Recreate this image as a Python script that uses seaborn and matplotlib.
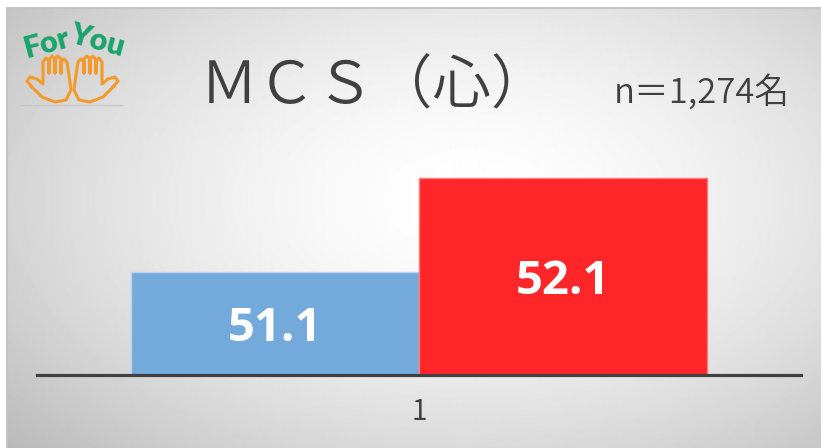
import numpy as np
import pandas as pd
import matplotlib
matplotlib.use('Agg')
import matplotlib.pyplot as plt
import seaborn as sns

# ---- data ----
categories = ['1']
groups = ['A', 'B']
values = [51.1, 52.1]
value_labels = ['51.1', '52.1']
title = 'ＭＣＳ（心）'
n_text = 'n＝1,274名'
colors = ['#74A9DB', '#FF2629']
edge_colors = ['#B8D3EE', '#FF7A7A']

sns.set_style('white')
plt.rcParams['font.family'] = ['Noto Sans CJK JP', 'DejaVu Sans']

W, H = 821, 448
fig = plt.figure(figsize=(W / 100, H / 100), dpi=100)
fig.patch.set_facecolor('white')

# ---- radial gradient background ----
bg = fig.add_axes([7 / W, 0, (W - 7) / W, (H - 8) / H], zorder=0)
ys, xs = np.mgrid[8:H, 7:W]
r = np.hypot((xs - 470) / 560, (ys - 200) / 330)
v = 1 - 0.23 * np.clip(r, 0, 1.3) ** 1.6
bg.imshow(v, cmap='gray', vmin=0, vmax=1, aspect='auto', interpolation='bilinear')
bg.set_axis_off()

# ---- main chart ----
ax = fig.add_axes([37 / W, (H - 375) / H, 764 / W, (375 - 93) / H], zorder=1)
ax.patch.set_alpha(0)
df = pd.DataFrame({'cat': categories * len(groups), 'grp': groups, 'val': values})
sns.barplot(data=df, x='cat', y='val', hue='grp', palette=colors, width=0.754,
            saturation=1, legend=False, errorbar=None, ax=ax)
ax.set_ylim(50, 53)
ax.set_xlim(-0.5, 0.5)
for p, ec in zip(ax.patches, edge_colors):
    p.set_edgecolor(ec)
    p.set_linewidth(1)
y0 = ax.get_ylim()[0]
for p, lab in zip(ax.patches, value_labels):
    ax.text(p.get_x() + p.get_width() / 2, (y0 + p.get_height()) / 2, lab,
            ha='center', va='center_baseline', color='white', fontsize=34,
            fontweight='bold', family=['Open Sans', 'DejaVu Sans'])
for s in ['left', 'top', 'right']:
    ax.spines[s].set_visible(False)
ax.spines['bottom'].set_color('#404040')
ax.spines['bottom'].set_linewidth(2.3)
ax.set_yticks([])
ax.tick_params(axis='x', length=0, labelsize=20, labelcolor='#404040', pad=16)
ax.set_xlabel('')
ax.set_ylabel('')

# ---- overlay: titles, frame, logo ----
ov = fig.add_axes([0, 0, 1, 1], zorder=2)
ov.set_xlim(0, W)
ov.set_ylim(H, 0)
ov.set_axis_off()
ov.patch.set_alpha(0)

ov.plot([7, 7], [8, H], color='#c4c4c4', lw=1.5)
ov.plot([7, W], [8, 8], color='#c4c4c4', lw=1.5)

ov.text(200, 103, title, fontsize=42, color='#404040', ha='left', va='baseline',
        fontweight=350, family=['Noto Sans CJK JP', 'DejaVu Sans'])
ov.text(790, 103, n_text, fontsize=25, color='#404040', ha='right', va='baseline',
        fontweight=350, family=['Noto Sans CJK JP', 'DejaVu Sans'])

# logo
green = '#19A46B'
orange = '#F39A2B'
ov.text(47, 43, 'For', rotation=15, ha='center', va='center', fontsize=22,
        fontweight='heavy', color=green, family=['Lato', 'DejaVu Sans'])
ov.text(98, 40, 'You', rotation=-15, ha='center', va='center', fontsize=22,
        fontweight='heavy', color=green, family=['Lato', 'DejaVu Sans'])
hand = [(31, 86), (27, 81), (30, 77), (37, 79), (43, 84), (43, 62), (46, 58), (49, 61),
        (49, 73), (49, 60), (52, 56), (55, 59), (55, 73), (55, 59), (58, 56), (61, 59),
        (61, 73), (61, 62), (64, 59), (67, 62), (69, 75), (71, 90), (66, 100), (55, 102),
        (42, 97), (31, 86)]
hx = np.array([p[0] for p in hand])
hy = np.array([p[1] for p in hand])
ov.plot(hx, hy, color=orange, lw=2.2, solid_joinstyle='round', solid_capstyle='round')
ov.plot(145 - hx, hy, color=orange, lw=2.2, solid_joinstyle='round', solid_capstyle='round')
ov.plot([20, 122], [105, 105], color='#c8c8c8', lw=1)

fig.savefig('out.png', dpi=100)
